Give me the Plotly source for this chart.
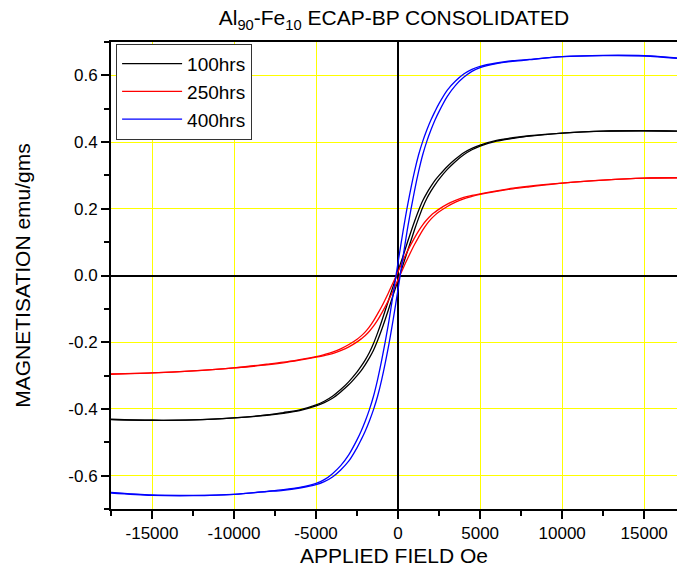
import plotly.graph_objects as go

# Applied field grid (Oe) shared by every branch
field = [-17500, -15000, -12500, -10000, -8000, -7000, -6000, -5000, -4500, -4000,
         -3500, -3000, -2500, -2250, -2000, -1750, -1500, -1250, -1000, -600,
         -300, 0, 300, 600, 1000, 1250, 1500, 1750, 2000, 2250,
         2500, 3000, 3500, 4000, 4500, 5000, 6000, 7000, 8000, 10000,
         12500, 15000, 17000]

# Magnetisation (emu/gms) on the descending branch (field swept + -> -)
# and on the ascending branch (field swept - -> +)
m100_desc = [-0.431, -0.434, -0.433, -0.427, -0.418, -0.411, -0.403, -0.388, -0.377, -0.362,
             -0.342, -0.318, -0.289, -0.272, -0.253, -0.231, -0.204, -0.172, -0.137, -0.077,
             -0.032, 0.014, 0.058, 0.104, 0.162, 0.195, 0.224, 0.247, 0.267, 0.285,
             0.300, 0.327, 0.349, 0.368, 0.381, 0.391, 0.405, 0.413, 0.419, 0.427,
             0.433, 0.434, 0.433]
m100_asc = [-0.432, -0.434, -0.433, -0.427, -0.419, -0.413, -0.405, -0.391, -0.381, -0.368,
            -0.349, -0.327, -0.300, -0.285, -0.267, -0.247, -0.224, -0.195, -0.162, -0.104,
            -0.058, -0.014, 0.032, 0.077, 0.137, 0.172, 0.204, 0.231, 0.253, 0.272,
            0.289, 0.318, 0.342, 0.362, 0.377, 0.388, 0.403, 0.411, 0.418, 0.427,
            0.433, 0.434, 0.433]

m250_desc = [-0.295, -0.292, -0.286, -0.277, -0.266, -0.260, -0.252, -0.243, -0.237, -0.230,
             -0.220, -0.207, -0.191, -0.181, -0.169, -0.154, -0.136, -0.115, -0.093, -0.053,
             -0.021, 0.012, 0.045, 0.076, 0.113, 0.134, 0.152, 0.167, 0.180, 0.190,
             0.199, 0.214, 0.225, 0.234, 0.240, 0.245, 0.254, 0.262, 0.268, 0.277,
             0.286, 0.292, 0.293]
m250_asc = [-0.296, -0.292, -0.286, -0.277, -0.268, -0.262, -0.254, -0.245, -0.240, -0.234,
            -0.225, -0.214, -0.199, -0.190, -0.180, -0.167, -0.152, -0.134, -0.113, -0.076,
            -0.045, -0.012, 0.021, 0.053, 0.093, 0.115, 0.136, 0.154, 0.169, 0.181,
            0.191, 0.207, 0.220, 0.230, 0.237, 0.243, 0.252, 0.260, 0.266, 0.277,
            0.286, 0.292, 0.293]

m400_desc = [-0.652, -0.659, -0.660, -0.656, -0.647, -0.642, -0.635, -0.623, -0.612, -0.594,
             -0.570, -0.537, -0.492, -0.466, -0.436, -0.402, -0.362, -0.312, -0.254, -0.148,
             -0.055, 0.040, 0.132, 0.216, 0.312, 0.362, 0.402, 0.436, 0.466, 0.492,
             0.516, 0.556, 0.583, 0.604, 0.618, 0.627, 0.637, 0.644, 0.648, 0.656,
             0.659, 0.658, 0.651]
m400_asc = [-0.650, -0.658, -0.659, -0.656, -0.648, -0.644, -0.637, -0.627, -0.618, -0.604,
            -0.583, -0.556, -0.516, -0.492, -0.466, -0.436, -0.402, -0.362, -0.312, -0.216,
            -0.132, -0.040, 0.055, 0.148, 0.254, 0.312, 0.362, 0.402, 0.436, 0.466,
            0.492, 0.537, 0.570, 0.594, 0.612, 0.623, 0.635, 0.642, 0.647, 0.656,
            0.660, 0.659, 0.652]

series_names = ["100hrs", "250hrs", "400hrs"]
series_colors = ["#000000", "#FF0000", "#0000FF"]
series_desc = [m100_desc, m250_desc, m400_desc]
series_asc = [m100_asc, m250_asc, m400_asc]

x_tick_vals = [-15000, -10000, -5000, 0, 5000, 10000, 15000]
x_tick_labels = ["-15000", "-10000", "-5000", "0", "5000", "10000", "15000"]
x_minor_vals = [-17500, -12500, -7500, -2500, 2500, 7500, 12500]
y_tick_vals = [-0.6, -0.4, -0.2, 0.0, 0.2, 0.4, 0.6]
y_tick_labels = ["-0.6", "-0.4", "-0.2", "0.0", "0.2", "0.4", "0.6"]
y_minor_vals = [-0.7, -0.5, -0.3, -0.1, 0.1, 0.3, 0.5, 0.7]

FONT = "Liberation Sans, Arial, sans-serif"

for arr in series_desc + series_asc:
    assert len(arr) == len(field)

fig = go.Figure()
for name, color, desc, asc in zip(series_names, series_colors, series_desc, series_asc):
    # each loop is drawn as its two branches sharing one legend entry
    for branch, show in ((desc, True), (asc, False)):
        fig.add_trace(go.Scatter(
            x=field, y=branch, mode="lines", name=name,
            legendgroup=name, showlegend=show,
            line=dict(color=color, width=1.3, shape="spline", smoothing=0.9),
        ))

fig.update_layout(
    width=677, height=575,
    margin=dict(l=111, r=0, t=42, b=66),
    paper_bgcolor="white", plot_bgcolor="white",
    font=dict(family=FONT, color="black"),
    title=dict(text="Al<sub>90</sub>-Fe<sub>10</sub> ECAP-BP CONSOLIDATED",
               x=0.5, xref="paper", xanchor="center",
               y=1 - 18 / 575, yref="container", yanchor="middle",
               font=dict(size=21, family=FONT, color="black")),
    showlegend=True,
    legend=dict(x=0.009, y=0.996, xanchor="left", yanchor="top",
                bgcolor="white", bordercolor="#333333", borderwidth=1,
                font=dict(size=19, family=FONT, color="black"),
                itemwidth=60, tracegroupgap=0),
)

fig.update_xaxes(
    range=[-17500, 17000],
    tickmode="array", tickvals=x_tick_vals, ticktext=x_tick_labels,
    ticks="outside", ticklen=8, tickwidth=1.5, tickcolor="black",
    tickfont=dict(size=17, family=FONT, color="black"),
    minor=dict(tickvals=x_minor_vals, ticks="outside", ticklen=5, tickwidth=1.5,
               tickcolor="black", showgrid=False),
    showgrid=True, gridcolor="#FFFF00", gridwidth=1,
    zeroline=True, zerolinecolor="black", zerolinewidth=1.5,
    showline=True, linecolor="black", linewidth=2, mirror=True,
    title=dict(text="APPLIED FIELD Oe", font=dict(size=21, family=FONT, color="black"),
               standoff=6),
)
fig.update_yaxes(
    range=[-0.7, 0.7],
    tickmode="array", tickvals=y_tick_vals, ticktext=y_tick_labels,
    ticks="outside", ticklen=8, tickwidth=1.5, tickcolor="black",
    tickfont=dict(size=17, family=FONT, color="black"),
    minor=dict(tickvals=y_minor_vals, ticks="outside", ticklen=5, tickwidth=1.5,
               tickcolor="black", showgrid=False),
    showgrid=True, gridcolor="#FFFF00", gridwidth=1,
    zeroline=True, zerolinecolor="black", zerolinewidth=1.5,
    showline=True, linecolor="black", linewidth=2, mirror=False,
    title=dict(text="MAGNETISATION emu/gms", font=dict(size=21, family=FONT, color="black"),
               standoff=32),
)

fig.write_html("out.html")
